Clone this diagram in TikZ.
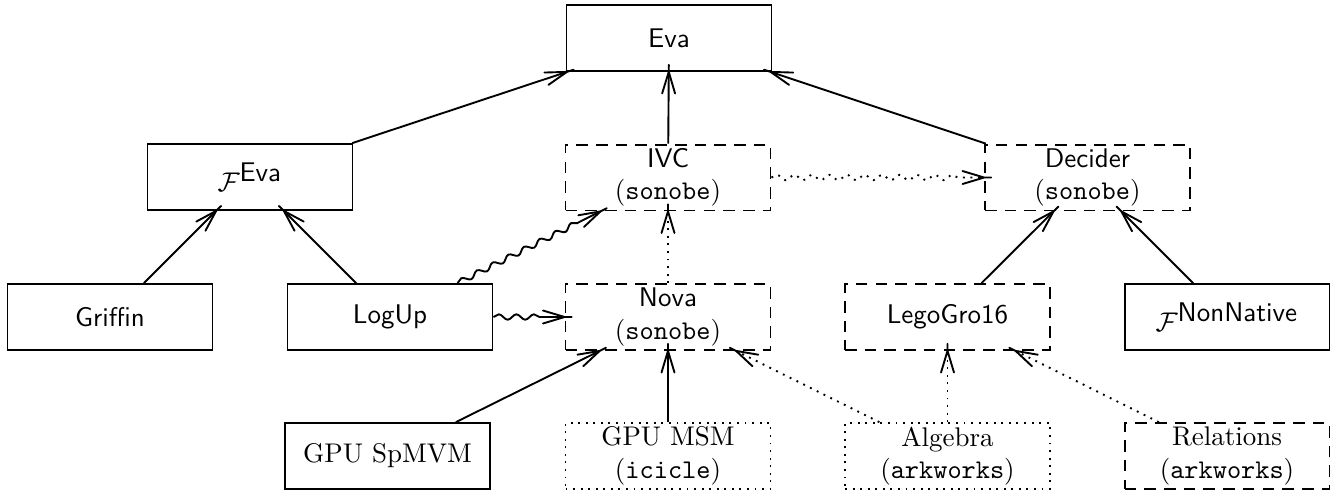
\documentclass[tikz,border=0pt]{standalone}
\usetikzlibrary{arrows.meta,decorations.pathmorphing}

% Open barb tip whose shaft pierces slightly through the target border
\pgfdeclarearrow{
  name = Pierce,
  parameters = {\the\pgfarrowlength,\the\pgfarrowwidth,\the\pgfarrowinset},
  setup code = {%
    \pgfarrowssettipend{0pt}%
    \pgfarrowssetlineend{0pt}%
    \pgfarrowssetbackend{-\pgfarrowlength}%
    \pgfarrowssavethe\pgfarrowlength
    \pgfarrowssavethe\pgfarrowwidth
    \pgfarrowssavethe\pgfarrowinset
  },
  drawing code = {%
    \pgfsetdash{}{0pt}%
    \pgfsetroundcap\pgfsetmiterjoin
    \pgfpathmoveto{\pgfqpoint{-\pgfarrowlength}{.5\pgfarrowwidth}}%
    \pgfpathlineto{\pgfpointorigin}%
    \pgfpathlineto{\pgfqpoint{-\pgfarrowlength}{-.5\pgfarrowwidth}}%
    \pgfpathmoveto{\pgfpointorigin}%
    \pgfpathlineto{\pgfqpoint{\pgfarrowinset}{0pt}}%
    \pgfusepathqstroke
  },
  defaults = {length=8pt, width=4.8pt, inset=2.6pt}
}

\tikzset{
  box/.style={draw, line width=0.7pt, minimum width=75.9pt, minimum height=24.4pt,
    inner sep=1pt, align=center},
  solidbox/.style={box},
  dashbox/.style={box, dash pattern=on 4.3pt off 3pt},
  dotbox/.style={box, dash pattern=on 0.7pt off 2.1pt},
  link/.style={line width=0.7pt, -{Pierce}},
  dotlink/.style={link, dash pattern=on 0.7pt off 2.1pt},
  wavy/.style={decorate, decoration={snake, amplitude=1pt, segment length=6.5pt, post length=9pt}},
}

\begin{document}
\begin{tikzpicture}[x=0.3704pt, y=-0.3704pt]
\useasboundingbox (0,0) rectangle (1341,494);

% top level
\node[solidbox] (eva) at (669,38) {\textsf{Eva}};

% middle level
\node[solidbox] (feva) at (250,177) {$\mathcal{F}^{\textsf{Eva}}$};
\node[dashbox] (ivc) at (668,177.5) {\textsf{IVC}\\$(\texttt{sonobe})$};
\node[dashbox] (decider) at (1087.5,177.5) {\textsf{Decider}\\$(\texttt{sonobe})$};

% components
\node[solidbox] (griffin) at (110,317) {\textsf{Griffin}};
\node[solidbox] (logup) at (390,317) {\textsf{LogUp}};
\node[dashbox] (nova) at (668,317) {\textsf{Nova}\\$(\texttt{sonobe})$};
\node[dashbox] (lego) at (947.5,317) {\textsf{LegoGro16}};
\node[solidbox] (fnn) at (1227,317) {$\mathcal{F}^{\textsf{NonNative}}$};

% libraries
\node[solidbox] (spmvm) at (387.5,456) {GPU SpMVM};
\node[dotbox] (msm) at (668,456) {GPU MSM\\$(\texttt{icicle})$};
\node[dotbox] (algebra) at (947.5,456) {Algebra\\$(\texttt{arkworks})$};
\node[dashbox] (relations) at (1227,456) {Relations\\$(\texttt{arkworks})$};

% dependencies
\draw[link] (feva) -- (eva);
\draw[link] (ivc) -- (eva);
\draw[link] (decider) -- (eva);
\draw[dotlink, wavy] (ivc) -- (decider);

\draw[link] (griffin) -- (feva);
\draw[link] (logup) -- (feva);
\draw[link, wavy] (logup) -- (ivc);
\draw[link, wavy] (logup) -- (nova);
\draw[dotlink] (nova) -- (ivc);

\draw[link] (lego) -- (decider);
\draw[link] (fnn) -- (decider);

\draw[link] (spmvm) -- (nova);
\draw[link] (msm) -- (nova);
\draw[dotlink] (algebra) -- (nova);
\draw[dotlink] (algebra) -- (lego);
\draw[dotlink] (relations) -- (lego);
\end{tikzpicture}
\end{document}
